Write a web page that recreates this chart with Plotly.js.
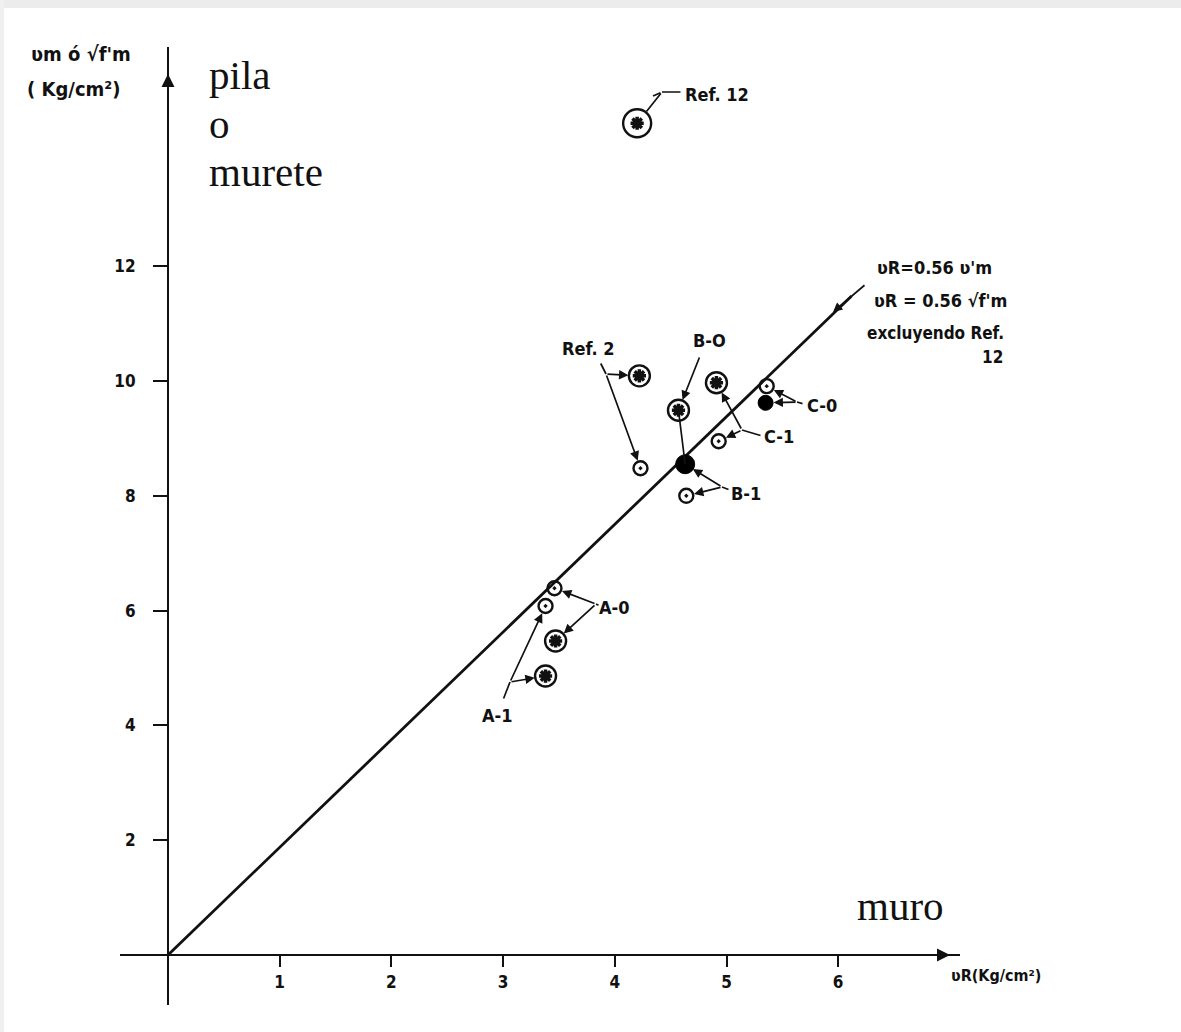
<!DOCTYPE html>
<html>
<head>
<meta charset="utf-8">
<script src="https://cdn.plot.ly/plotly-3.0.1.min.js"></script>
<style>html,body{margin:0;padding:0;background:#fff;}#chart{width:1181px;height:1032px;}</style>
</head>
<body>
<div id="chart"></div>
<script>
// ---- data ----
// circle with centre dot
const dotNames = ['A-0', 'A-1', 'B-1', 'C-1', 'C-0', 'Ref. 2'];
const dotX = [3.46, 3.38, 4.64, 4.93, 5.36, 4.23];
const dotY = [6.39, 6.08, 8.00, 8.95, 9.91, 8.48];
// circled star
const starNames = ['A-0', 'A-1', 'B-0', 'C-1', 'Ref. 2'];
const starX = [3.47, 3.38, 4.57, 4.91, 4.22];
const starY = [5.47, 4.86, 9.49, 9.97, 10.09];
// filled circles
const filledNames = ['B-0/B-1', 'C-0'];
const filledX = [4.63, 5.35];
const filledY = [8.55, 9.62];
// Ref. 12
const ref12X = [4.20];
const ref12Y = [14.49];
// fitted line vR = 0.56 vm
const fitX = [0, 6.12];
const fitY = [0, 11.48];
// ticks
const xTicks = [1, 2, 3, 4, 5, 6];
const yTicks = [2, 4, 6, 8, 10, 12];

// ---- geometry helpers (pixel of the reference -> axis / paper units) ----
const L = 120, R = 221, T = 47, B = 27, W = 1181, H = 1032;
const PX0 = 168, PY0 = 955, SX = 111.7, SY = 57.4;
const dx = px => (px - PX0) / SX;
const dy = py => (PY0 - py) / SY;
const ppx = px => (px - L) / (W - L - R);
const ppy = py => (H - B - py) / (H - T - B);

const lblFont = {family: 'DejaVu Sans Condensed, Liberation Sans Narrow, sans-serif', size: 18, color: '#111', weight: 'bold'};
const ann = [];
function ptext(t, px, py, opts) {
  ann.push(Object.assign({text: t, x: ppx(px), y: ppy(py), xref: 'paper', yref: 'paper', xanchor: 'center', yanchor: 'middle',
    showarrow: false, font: lblFont}, opts || {}));
}
function seg(x0, y0, x1, y1, head, standoff) {
  ann.push({text: '', x: x1, y: y1, ax: x0, ay: y0, xref: 'x', yref: 'y', axref: 'x', ayref: 'y',
    showarrow: true, arrowhead: head ? 2 : 0, arrowsize: 1.1, arrowwidth: 1.7, arrowcolor: '#111', standoff: standoff || 0});
}
// label + leader lines: label text, label pixel, junction pixel, targets (x,y,radius)
function label(t, tx, ty, jx, jy, targets, fromx, fromy, nohead) {
  ptext(t, tx, ty);
  if (fromx !== undefined) seg(dx(fromx), dy(fromy), dx(jx), dy(jy), false);
  targets.forEach(tg => seg(dx(jx), dy(jy), tg[0], tg[1], !nohead, tg[2]));
}

label('Ref. 2', 588, 348, 606, 374, [[starX[4], starY[4], 11], [dotX[5], dotY[5], 8]], 600, 362);
label('B-O', 709, 340, 700, 356, [[starX[2], starY[2], 11]]);
seg(starX[2], starY[2], filledX[0], filledY[0], false);
label('B-1', 746, 493, 722, 487, [[filledX[0], filledY[0], 9], [dotX[2], dotY[2], 8]], 730, 490);
label('C-1', 779, 437, 742, 430, [[starX[3], starY[3], 11], [dotX[3], dotY[3], 8]], 762, 436);
label('C-0', 822, 405, 797, 402, [[dotX[4], dotY[4], 8], [filledX[1], filledY[1], 8]], 804, 404);
label('A-0', 614, 607, 596, 604, [[dotX[0], dotY[0], 8], [starX[0], starY[0], 11]], 600, 606);
label('A-1', 497, 715, 510, 682, [[starX[1], starY[1], 11], [dotX[1], dotY[1], 8]], 503, 700);
label('Ref. 12', 717, 94, 662, 92, [[ref12X[0], ref12Y[0], 15]], 682, 92, true);
seg(dx(662), dy(92), dx(653), dy(96), false);

// formula block
ptext('ʋR=0.56 ʋ\'m', 934, 267);
ptext('ʋR = 0.56 √f\'m', 940, 300);
ptext('excluyendo Ref.', 935, 333, {font: Object.assign({}, lblFont, {size: 17})});
ptext('12', 992, 357, {font: Object.assign({}, lblFont, {size: 17})});
seg(dx(866), dy(284), dx(833), dy(312), true);

// serif labels
const serif = {family: 'Liberation Serif, Times New Roman, serif', size: 41, color: '#111'};
ptext('pila', 207, 75, {xanchor: 'left', font: serif});
ptext('o', 207, 124, {xanchor: 'left', font: serif});
ptext('murete', 207, 172, {xanchor: 'left', font: serif});
ptext('muro', 900, 906, {font: serif});
// axis titles
const titleFont = Object.assign({}, lblFont, {size: 20});
ptext('ʋm ó √f\'m', 81, 54, {font: titleFont});
ptext('( Kg/cm²)', 73, 89, {font: titleFont});
ptext('ʋR(Kg/cm²)', 996, 975, {font: Object.assign({}, lblFont, {size: 16})});
// axis arrow heads
ann.push({text: '', x: 0, y: dy(74), xref: 'x', yref: 'y', ax: 0, ay: 26, showarrow: true, arrowhead: 2, arrowsize: 1.3, arrowwidth: 2, arrowcolor: '#111'});
ann.push({text: '', x: dx(950), y: 0, xref: 'x', yref: 'y', ax: -26, ay: 0, showarrow: true, arrowhead: 2, arrowsize: 1.3, arrowwidth: 2, arrowcolor: '#111'});

const traces = [
  {x: fitX, y: fitY, mode: 'lines', line: {color: '#111', width: 2.8}, hoverinfo: 'skip'},
  {x: dotX, y: dotY, text: dotNames, mode: 'markers', marker: {symbol: 'circle-open-dot', size: 14, opacity: 1, color: '#111', line: {width: 2.4, color: '#111'}}},
  {x: starX, y: starY, text: starNames, mode: 'markers', marker: {symbol: 'circle', size: 21, opacity: 1, color: '#fff', line: {width: 2.4, color: '#111'}}},
  {x: starX, y: starY, mode: 'markers', hoverinfo: 'skip', marker: {symbol: 'asterisk-open', size: 11, opacity: 1, color: '#111', line: {width: 3.5, color: '#111'}}},
  {x: filledX, y: filledY, text: filledNames, mode: 'markers', marker: {symbol: 'circle', size: [19, 15], opacity: 1, color: '#000', line: {width: 1, color: '#000'}}},
  {x: ref12X, y: ref12Y, text: ['Ref. 12'], mode: 'markers', marker: {symbol: 'circle', size: 28, opacity: 1, color: '#fff', line: {width: 2.4, color: '#111'}}},
  {x: ref12X, y: ref12Y, mode: 'markers', hoverinfo: 'skip', marker: {symbol: 'asterisk-open', size: 11, opacity: 1, color: '#111', line: {width: 3.5, color: '#111'}}}
];

const tickFont = {family: 'DejaVu Sans Condensed, Liberation Sans Narrow, sans-serif', size: 17, color: '#111', weight: 'bold'};
const layout = {
  width: W, height: H,
  margin: {l: L, r: R, t: T, b: B},
  paper_bgcolor: '#fff', plot_bgcolor: '#fff',
  showlegend: false,
  xaxis: {range: [dx(L), dx(W - R)], anchor: 'free', position: ppy(PY0), showline: true, linecolor: '#111', linewidth: 2,
    showgrid: false, zeroline: false, tickvals: xTicks, ticktext: xTicks.map(String), ticks: 'outside', ticklen: 11, tickwidth: 2,
    tickcolor: '#111', tickfont: tickFont, ticklabelstandoff: 1},
  yaxis: {range: [dy(H - B), dy(T)], anchor: 'free', position: ppx(PX0), showline: true, linecolor: '#111', linewidth: 2,
    showgrid: false, zeroline: false, tickvals: yTicks, ticktext: yTicks.map(String), ticks: 'outside', ticklen: 14, tickwidth: 2,
    tickcolor: '#111', tickfont: tickFont, ticklabelstandoff: 14},
  annotations: ann,
  shapes: [
    {type: 'rect', xref: 'paper', yref: 'paper', x0: ppx(0), x1: ppx(W), y0: ppy(8), y1: ppy(0), fillcolor: '#ececec', line: {width: 0}, layer: 'below'},
    {type: 'rect', xref: 'paper', yref: 'paper', x0: ppx(0), x1: ppx(4), y0: ppy(H), y1: ppy(0), fillcolor: '#f0f0f0', line: {width: 0}, layer: 'below'}
  ]
};
Plotly.newPlot('chart', traces, layout, {displayModeBar: false});
</script>
</body>
</html>
